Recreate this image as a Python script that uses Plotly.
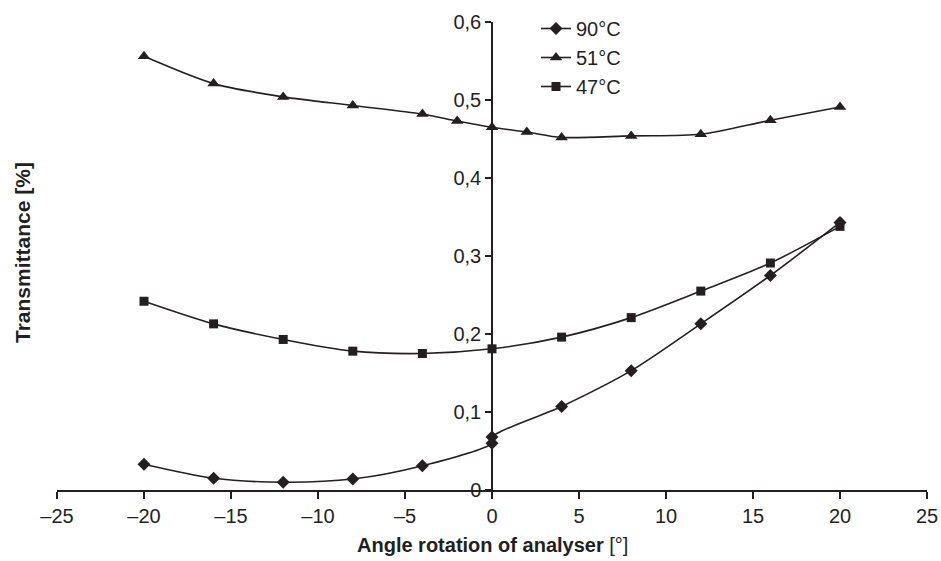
import plotly.graph_objects as go

# Data
x_90 = [-20, -16, -12, -8, -4, 0, 0, 4, 8, 12, 16, 20]
y_90 = [0.033, 0.015, 0.010, 0.014, 0.031, 0.060, 0.068, 0.107, 0.153, 0.213, 0.275, 0.343]

x_51 = [-20, -16, -12, -8, -4, -2, 0, 2, 4, 8, 12, 16, 20]
y_51 = [0.556, 0.521, 0.504, 0.493, 0.482, 0.473, 0.465, 0.459, 0.452, 0.454, 0.456, 0.474, 0.491]

x_47 = [-20, -16, -12, -8, -4, 0, 4, 8, 12, 16, 20]
y_47 = [0.242, 0.213, 0.193, 0.178, 0.175, 0.181, 0.196, 0.221, 0.255, 0.291, 0.338]

series_names = ["90°C", "51°C", "47°C"]

x_tickvals = [-25, -20, -15, -10, -5, 0, 5, 10, 15, 20, 25]
x_ticktext = ["–25", "–20", "–15", "–10", "–5", "0", "5", "10", "15", "20", "25"]
y_tickvals = [0, 0.1, 0.2, 0.3, 0.4, 0.5, 0.6]
y_ticktext = ["0", "0,1", "0,2", "0,3", "0,4", "0,5", "0,6"]

INK = "#231f20"
FONT = "Liberation Sans, Arial, sans-serif"

W, H = 941, 561
# target plot area in window pixels: x 57..927, y 22..490
ML, MT = 57, 22
MR = W - 927
MB = H - 490
PW, PH = W - ML - MR, H - MT - MB


def px_x(px):
    return (px - ML) / PW


def px_y(py):
    return (MT + PH - py) / PH


fig = go.Figure()
specs = [
    (x_90, y_90, series_names[0], "diamond", 10),
    (x_51, y_51, series_names[1], "triangle-up", 11),
    (x_47, y_47, series_names[2], "square", 9),
]
for xs, ys, name, sym, size in specs:
    fig.add_trace(go.Scatter(
        x=xs, y=ys, name=name, mode="lines+markers",
        line=dict(color=INK, width=1.6, shape="spline", smoothing=0.8),
        marker=dict(symbol=sym, size=size, color=INK),
    ))

fig.update_layout(
    width=W, height=H,
    margin=dict(l=ML, r=MR, t=MT, b=MB, autoexpand=False),
    paper_bgcolor="white", plot_bgcolor="white",
    font=dict(family=FONT, size=17, color=INK),
    showlegend=True,
    legend=dict(x=px_x(536), y=px_y(9), xanchor="left", yanchor="top",
                font=dict(size=20, color=INK),
                bgcolor="rgba(0,0,0,0)", itemwidth=30),
    xaxis=dict(range=[-25, 25], tickvals=x_tickvals, ticktext=x_ticktext,
               showline=True, linecolor=INK, linewidth=1.5,
               ticks="outside", ticklen=7, tickwidth=1.5, tickcolor=INK,
               showgrid=False, zeroline=False, ticklabeloverflow="allow",
               tickfont=dict(size=20, color=INK)),
    yaxis=dict(range=[0, 0.6], tickvals=y_tickvals, ticktext=y_ticktext,
               anchor="free", position=0.5, side="left",
               showline=True, linecolor=INK, linewidth=1.5,
               ticks="outside", ticklen=6, tickwidth=1.5, tickcolor=INK,
               showgrid=False, zeroline=False,
               tickfont=dict(size=20, color=INK)),
    annotations=[
        dict(text="<b>Transmittance [%]</b>", x=px_x(22), y=px_y(253),
             xref="paper", yref="paper", xanchor="center", yanchor="middle",
             showarrow=False, textangle=-90, font=dict(size=21, color=INK)),
        dict(text="<b>Angle rotation of analyser</b> [°]", x=px_x(492), y=px_y(545),
             xref="paper", yref="paper", xanchor="center", yanchor="middle",
             showarrow=False, font=dict(size=20, color=INK)),
    ],
)

fig.write_html(
    "out.html",
    config={"displayModeBar": False},
    post_script="document.body.style.margin='0';document.body.style.overflow='hidden';",
)
